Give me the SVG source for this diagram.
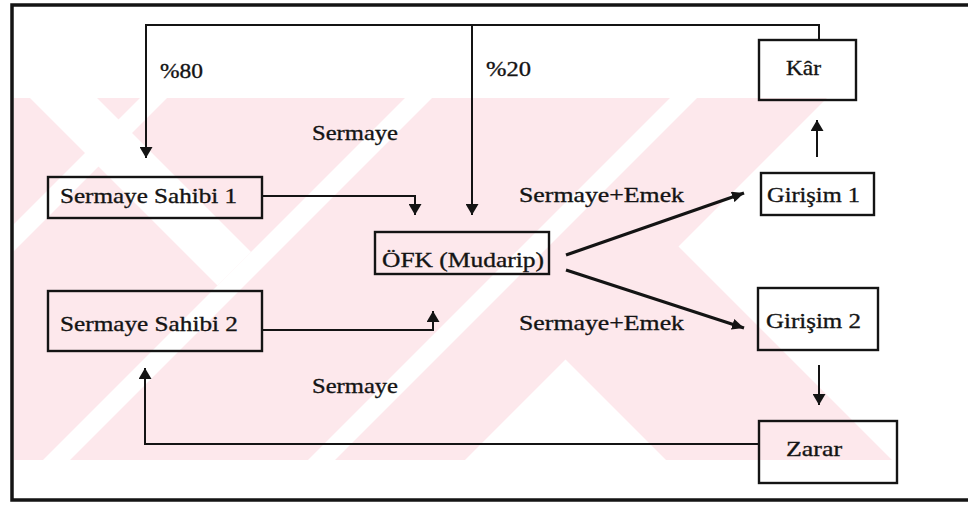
<svg xmlns="http://www.w3.org/2000/svg" width="968" height="506" viewBox="0 0 968 506">
  <defs>
    <style>
      .box { fill: none; stroke: #141414; stroke-width: 2.4; }
      .conn { fill: none; stroke: #141414; stroke-width: 2; }
      .diag { fill: none; stroke: #141414; stroke-width: 3.2; }
      .frame { fill: none; stroke: #141414; stroke-width: 3.5; }
      .lbl { font-family: "Liberation Serif", "Times New Roman", "DejaVu Serif", serif; font-size: 22px; fill: #141414; stroke: #141414; stroke-width: 0.35; }
      .wm { fill: #fde8ec; }
      .wmgap { fill: #ffffff; }
    </style>
    <marker id="arr" markerUnits="userSpaceOnUse" markerWidth="11" markerHeight="13" refX="11" refY="6.5" orient="auto">
      <path d="M0,0 L11,6.5 L0,13 z" fill="#141414"/>
    </marker>
    <marker id="arrs" markerUnits="userSpaceOnUse" markerWidth="12" markerHeight="11" refX="12" refY="5.5" orient="auto">
      <path d="M0,0 L12,5.5 L0,11 z" fill="#141414"/>
    </marker>
    <clipPath id="band">
      <rect x="14" y="98" width="954" height="362"/>
    </clipPath>
  </defs>

  <rect x="0" y="0" width="968" height="506" fill="#ffffff"/>

  <!-- watermark -->
  <g id="watermark" clip-path="url(#band)">
    <rect class="wm" x="14" y="98" width="954" height="362"/>
    <polygon class="wmgap" points="678.5,246.5 827,98 968,98 968,460 892,460"/>
    <polygon class="wmgap" points="565.5,359.5 666,460 465,460"/>
    <polygon class="wmgap" points="405,98 432,98 70,460 43,460"/>
    <polygon class="wmgap" points="670,98 697,98 335,460 308,460"/>
    <polygon class="wmgap" points="140,98 167,98 -195,460 -222,460"/>
    <polygon class="wmgap" points="30,98 97,98 251,252 217.5,285.5"/>
  </g>

  <!-- frame -->
  <g id="frame">
    <path class="frame" d="M968,5 H12 V500 H968"/>
  </g>

  <!-- connectors -->
  <g id="connectors">
    <path class="conn" d="M819,40 V25 H146 V158" marker-end="url(#arr)"/>
    <path class="conn" d="M472,25 V215" marker-end="url(#arr)"/>
    <path class="conn" d="M262,196 H415 V215" marker-end="url(#arr)"/>
    <path class="conn" d="M262,330 H433 V311" marker-end="url(#arr)"/>
    <path class="conn" d="M759,444 H145 V368" marker-end="url(#arr)"/>
    <path class="diag" d="M566,255 L744,193" marker-end="url(#arrs)"/>
    <path class="diag" d="M566,270 L744,328" marker-end="url(#arrs)"/>
    <path class="conn" d="M817,157 V120" marker-end="url(#arr)"/>
    <path class="conn" d="M819,365 V405" marker-end="url(#arr)"/>
  </g>

  <!-- labels -->
  <g id="labels">
    <text class="lbl" x="160" y="78" textLength="43" lengthAdjust="spacingAndGlyphs">%80</text>
    <text class="lbl" x="486" y="76" textLength="45" lengthAdjust="spacingAndGlyphs">%20</text>
    <text class="lbl" x="312" y="140" textLength="86" lengthAdjust="spacingAndGlyphs">Sermaye</text>
    <text class="lbl" x="312" y="393" textLength="86" lengthAdjust="spacingAndGlyphs">Sermaye</text>
    <text class="lbl" x="519" y="202" textLength="165" lengthAdjust="spacingAndGlyphs">Sermaye+Emek</text>
    <text class="lbl" x="519" y="330" textLength="165" lengthAdjust="spacingAndGlyphs">Sermaye+Emek</text>
  </g>

  <!-- nodes -->
  <g id="node-kar">
    <rect class="box" x="759" y="40" width="97" height="60"/>
    <text class="lbl" x="786" y="75" textLength="35" lengthAdjust="spacingAndGlyphs">Kâr</text>
  </g>
  <g id="node-sermaye-sahibi-1">
    <rect class="box" x="48" y="177" width="214" height="41"/>
    <text class="lbl" x="60" y="203" textLength="177" lengthAdjust="spacingAndGlyphs">Sermaye Sahibi 1</text>
  </g>
  <g id="node-girisim-1">
    <rect class="box" x="761" y="173" width="113" height="42"/>
    <text class="lbl" x="767" y="202" textLength="93" lengthAdjust="spacingAndGlyphs">Girişim 1</text>
  </g>
  <g id="node-ofk">
    <rect class="box" x="375" y="232" width="174" height="42"/>
    <text class="lbl" x="382" y="267" textLength="162" lengthAdjust="spacingAndGlyphs">ÖFK (Mudarip)</text>
  </g>
  <g id="node-sermaye-sahibi-2">
    <rect class="box" x="48" y="291" width="214" height="60"/>
    <text class="lbl" x="60" y="331" textLength="178" lengthAdjust="spacingAndGlyphs">Sermaye Sahibi 2</text>
  </g>
  <g id="node-girisim-2">
    <rect class="box" x="758" y="288" width="120" height="62"/>
    <text class="lbl" x="766" y="328" textLength="95" lengthAdjust="spacingAndGlyphs">Girişim 2</text>
  </g>
  <g id="node-zarar">
    <rect class="box" x="759" y="421" width="138" height="62"/>
    <text class="lbl" x="786" y="456" textLength="56" lengthAdjust="spacingAndGlyphs">Zarar</text>
  </g>
</svg>
